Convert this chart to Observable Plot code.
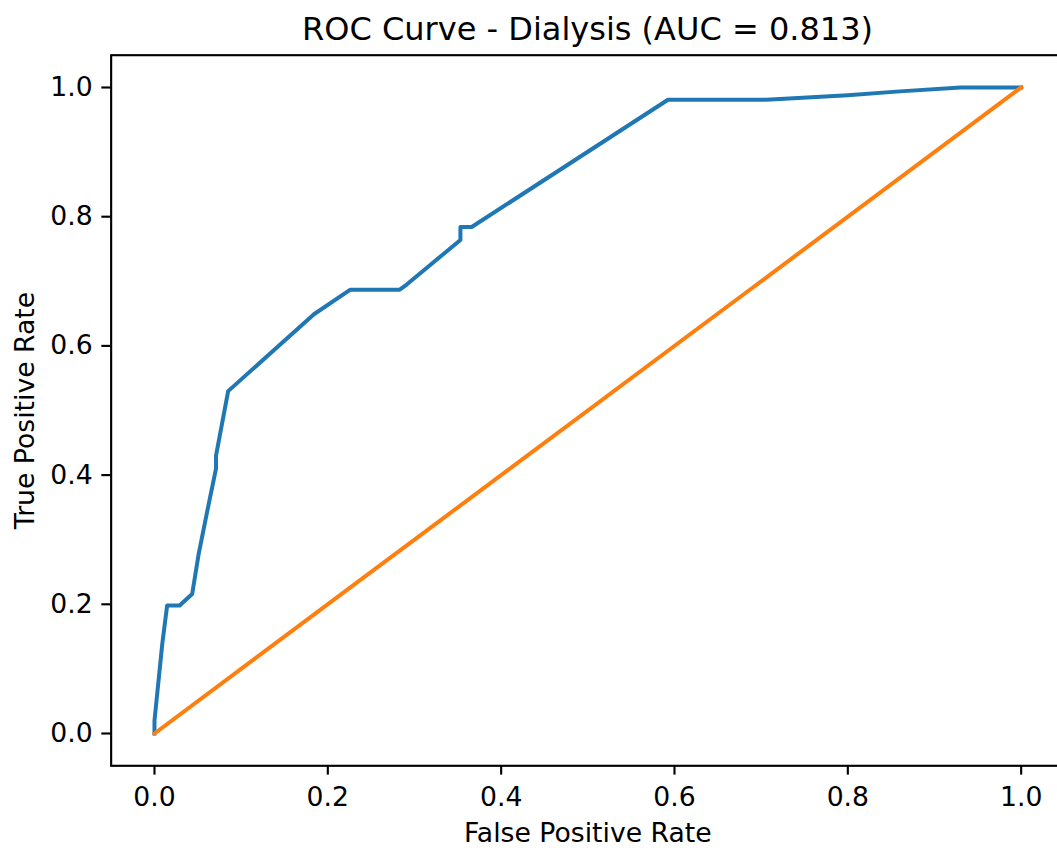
<!DOCTYPE html>
<html>
<head>
<meta charset="utf-8">
<script src="https://cdn.jsdelivr.net/npm/d3@7"></script>
<script src="https://cdn.jsdelivr.net/npm/@observablehq/plot@0.6"></script>
<style>
  html, body { margin: 0; padding: 0; background: #fff; overflow: hidden; }
  #wrap { position: relative; width: 1057px; height: 848px; overflow: hidden; }
  #title { position: absolute; top: 12.9px; left: 587.5px; transform: translateX(-50%);
    font-family: 'DejaVu Sans', sans-serif; font-size: 32px; line-height: 32px; white-space: nowrap; color: #000; }
  #chart { position: absolute; top: 0; left: 0; width: 1080px; }
  #chart svg { max-width: none !important; width: 1080px !important; height: 848px !important; }
</style>
</head>
<body>
<div id="wrap"><div id="chart"></div><div id="title">ROC Curve - Dialysis (AUC = 0.813)</div></div>
<script>
// Model ROC curve
const modelFpr = [0, 0, 0.009, 0.0146, 0.029, 0.0435, 0.051, 0.061, 0.071, 0.071, 0.085, 0.184, 0.226, 0.283, 0.291, 0.353, 0.353, 0.366, 0.5925, 0.706, 0.80, 0.86, 0.93, 1.0];
const modelTpr = [0, 0.02, 0.139, 0.198, 0.198, 0.216, 0.278, 0.345, 0.41, 0.43, 0.53, 0.649, 0.687, 0.687, 0.695, 0.764, 0.784, 0.784, 0.981, 0.981, 0.988, 0.994, 1.0, 1.0];
// Chance diagonal
const chanceFpr = [0, 0.24, 0.69, 1.0];
const chanceTpr = [0, 0.24, 0.69, 1.0];
// Ticks and labels
const xTicks = [0, 0.2, 0.4, 0.6, 0.8, 1.0];
const yTicks = [0, 0.2, 0.4, 0.6, 0.8, 1.0];
const xLabel = "False Positive Rate";
const yLabel = "True Positive Rate";

const model = modelFpr.map((x, i) => ({x, y: modelTpr[i]}));
const chance = chanceFpr.map((x, i) => ({x, y: chanceTpr[i]}));

const fs = 26.67;
const chart = Plot.plot({
  width: 1080,
  height: 848,
  marginLeft: 110.65,
  marginRight: 16,
  marginTop: 54.7,
  marginBottom: 82.7,
  x: {domain: [-0.05, 1.05]},
  y: {domain: [-0.05, 1.05]},
  style: {fontFamily: "'DejaVu Sans', sans-serif", fontSize: fs + "px", background: "#fff", color: "#000"},
  marks: [
    Plot.line(model, {x: "x", y: "y", stroke: "#1f77b4", strokeWidth: 4, strokeLinejoin: "round", strokeLinecap: "square"}),
    Plot.line(chance, {x: "x", y: "y", stroke: "#ff7f0e", strokeWidth: 4, strokeLinecap: "square"}),
    Plot.frame({stroke: "#000", strokeWidth: 2.13}),
    Plot.axisX({ticks: xTicks, tickFormat: d3.format(".1f"), tickSize: 9.33, tickPadding: 11.5, strokeWidth: 2.13, label: null, fontSize: fs}),
    Plot.axisY({ticks: yTicks, tickFormat: d3.format(".1f"), tickSize: 9.33, tickPadding: 9.1, strokeWidth: 2.13, label: null, fontSize: fs}),
    Plot.text([xLabel], {frameAnchor: "bottom", text: d => d, dy: 67.5, textAnchor: "middle", lineAnchor: "middle", fontSize: fs}),
    Plot.text([yLabel], {frameAnchor: "left", text: d => d, rotate: -90, dx: -86.15, textAnchor: "middle", lineAnchor: "middle", fontSize: fs})
  ]
});
document.getElementById("chart").appendChild(chart);
</script>
</body>
</html>
